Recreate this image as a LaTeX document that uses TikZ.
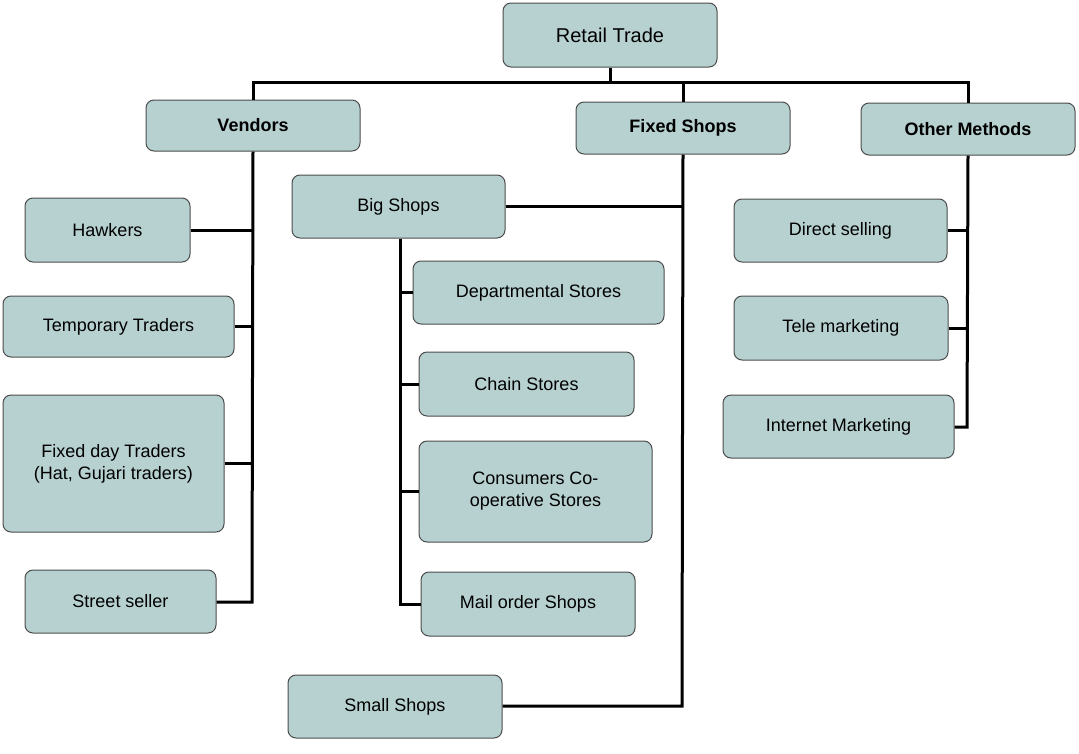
\documentclass[tikz,border=0pt]{standalone}
\usepackage{fontspec}
\setmainfont{Liberation Sans}
\begin{document}
\begin{tikzpicture}[x=1pt,y=-1pt,
 bx/.style={draw=black!70,line width=1pt,fill={rgb,255:red,183;green,209;blue,209},rounded corners=8pt,align=center,font=\fontsize{18}{22}\selectfont},
 ln/.style={line width=3pt,black}]
\useasboundingbox (0,0) rectangle (1079,753);
\newcommand\bxn[6]{\node[bx,#6,minimum width=#4-#2,minimum height=#5-#3] (#1) at ({(#2+#4)/2},{(#3+#5)/2}) {#1text};}
% nodes
\def\mk#1#2#3#4#5#6{\node[bx,minimum width=#4-#2,minimum height=#5-#3,inner sep=0pt] (#1) at ({(#2+#4)/2},{(#3+#5)/2}) {#6};}
\mk{rt}{503}{3}{717}{67}{\fontsize{20}{24}\selectfont Retail Trade}
\mk{ven}{146}{100}{360}{151}{\textbf{Vendors}}
\mk{fs}{576}{102}{790}{154}{\textbf{Fixed Shops}}
\mk{om}{861}{103}{1075}{155}{\textbf{Other Methods}}
\mk{haw}{25}{198}{190}{262}{Hawkers}
\mk{tmp}{3}{296}{234}{357}{Temporary Traders}
\mk{fdt}{3}{395}{224}{532}{Fixed day Traders\\(Hat, Gujari traders)}
\mk{ss}{25}{570}{216}{633}{Street seller}
\mk{bs}{292}{175}{505}{238}{Big Shops}
\mk{dep}{413}{261}{664}{324}{Departmental Stores}
\mk{cs}{419}{352}{634}{416}{Chain Stores}
\mk{cc}{419}{441}{652}{542}{Consumers Co-\\operative Stores}
\mk{mo}{421}{572}{635}{636}{Mail order Shops}
\mk{sm}{288}{675}{502}{738}{Small Shops}
\mk{ds}{734}{199}{947}{262}{Direct selling}
\mk{tm}{734}{296}{948}{360}{Tele marketing}
\mk{im}{723}{395}{954}{458}{Internet Marketing}
% connectors
\coordinate (h) at (610,82);
\draw[ln] (rt.south) -- (h);
\draw[ln] (ven.north) |- (h) -| (om.north);
\draw[ln] (fs.north) -- (fs.north |- h);
\coordinate (v) at (252,602);
\draw[ln] (ven.south) -- (v) -- (ss.east |- v);
\draw[ln] (haw.east) -- (haw.east -| v);
\draw[ln] (tmp.east) -- (tmp.east -| v);
\draw[ln] (fdt.east) -- (fdt.east -| v);
\coordinate (f) at (682,706);
\draw[ln] (fs.south) -- (f) -- (f -| sm.east);
\draw[ln] (bs.east) -- (bs.east -| f);
\coordinate (b) at (400,604);
\draw[ln] (bs.south -| b) -- (b) -- (b -| mo.west);
\draw[ln] (dep.west -| b) -- (dep.west);
\draw[ln] (cs.west -| b) -- (cs.west);
\draw[ln] (cc.west -| b) -- (cc.west);
\coordinate (o) at (967,427);
\draw[ln] (om.south) -- (o) -- (o -| im.east);
\draw[ln] (ds.east) -- (ds.east -| o);
\draw[ln] (tm.east) -- (tm.east -| o);
\end{tikzpicture}
\end{document}
